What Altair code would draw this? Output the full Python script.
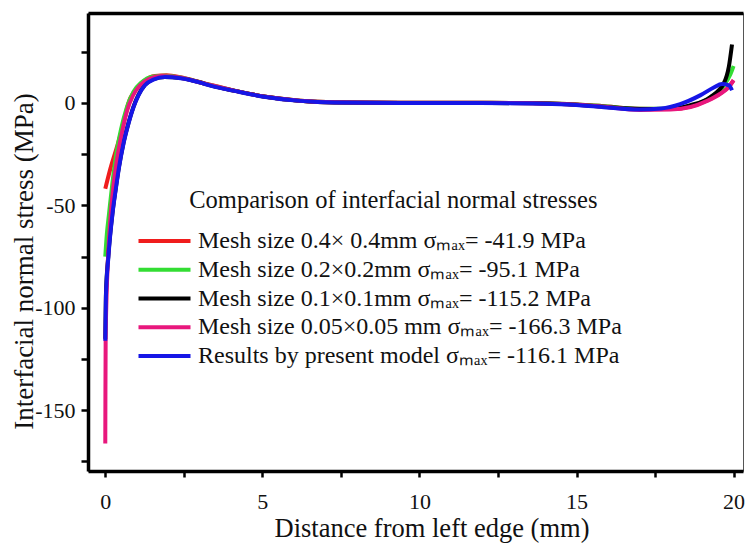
import altair as alt
import pandas as pd

series_names = [
    "Mesh size 0.4\u00d7 0.4mm \u03c3\u2098\u2090\u2093= -41.9 MPa",
    "Mesh size 0.2\u00d70.2mm \u03c3\u2098\u2090\u2093= -95.1 MPa",
    "\u00a0Mesh size 0.1\u00d70.1mm \u03c3\u2098\u2090\u2093= -115.2 MPa",
    "Mesh size 0.05\u00d70.05 mm \u03c3\u2098\u2090\u2093= -166.3 MPa",
    "Results by present model \u03c3\u2098\u2090\u2093= -116.1 MPa",
]
series_colors = ["#f01c1c", "#33dd33", "#000000", "#e8177d", "#1616e6"]

red_x = [0, 0.15, 0.37, 0.58, 0.73, 0.95, 1.21, 1.58, 1.95, 2.43, 3.0, 3.4, 4.1, 5.1, 6.2, 7.3, 9.4, 11.5, 13.6, 14.7, 15.8, 17.0, 18.0, 18.63, 19.16, 19.59, 19.85, 20.0]
red_y = [-41.9, -32.8, -21.5, -10, -0.3, 6.2, 10.4, 13.2, 13.5, 12.4, 10.2, 8.6, 6.0, 3.0, 1.1, 0.3, 0.1, 0.1, -0.1, -0.5, -1.5, -2.9, -3.0, -1.8, 1.2, 4.8, 7.9, 11.0]

green_x = [0, 0.05, 0.12, 0.22, 0.35, 0.5, 0.68, 0.9, 1.15, 1.5, 1.9, 2.43, 3.0, 3.4, 4.1, 5.1, 6.2, 7.3, 9.4, 11.5, 13.6, 14.7, 15.8, 17.0, 18.0, 18.63, 19.26, 19.69, 19.9, 20.0]
green_y = [-75, -64, -54, -40, -25, -13, -2.5, 5.5, 10, 12.8, 13.3, 12.3, 10.1, 8.5, 6.0, 3.0, 1.1, 0.3, 0.1, 0.1, -0.1, -0.5, -1.5, -2.9, -2.8, -1.4, 2.6, 8.5, 14.0, 18.0]

black_x = [0, 0.02, 0.1, 0.23, 0.33, 0.44, 0.58, 0.74, 0.9, 1.06, 1.26, 1.53, 1.9, 2.4, 3.0, 3.4, 4.1, 5.1, 6.2, 7.3, 9.4, 11.5, 13.6, 14.7, 15.8, 17.0, 18.0, 18.63, 19.26, 19.69, 19.85, 19.95]
black_y = [-115.2, -94, -74, -53.5, -42, -30.8, -19.5, -9.7, -1.8, 4.0, 8.8, 11.6, 12.7, 12.1, 10.1, 8.3, 6.0, 3.0, 1.0, 0.2, 0, 0, -0.2, -0.7, -1.8, -3.0, -2.8, -1.1, 2.9, 9.6, 17.7, 28.5]

pink_x = [0, 0.005, 0.012, 0.04, 0.09, 0.17, 0.28, 0.4, 0.55, 0.7, 0.88, 1.1, 1.4, 1.8, 2.4, 3.0, 3.4, 4.1, 5.1, 6.2, 7.3, 9.4, 11.5, 13.6, 14.7, 15.8, 17.0, 17.99, 18.63, 19.16, 19.59, 19.85, 20.0]
pink_y = [-166.3, -140, -116, -95, -75, -55, -38, -25, -13, -3.5, 3.5, 8.5, 11.8, 13.2, 12.3, 10.1, 8.5, 6.0, 3.0, 1.1, 0.3, 0.1, 0.1, -0.2, -0.6, -1.7, -3.4, -3.2, -2.0, 1.0, 4.6, 7.8, 11.1]

blue_x = [0, 0.02, 0.1, 0.23, 0.33, 0.44, 0.58, 0.74, 0.9, 1.06, 1.26, 1.53, 1.9, 2.4, 3.0, 3.4, 4.1, 5.1, 6.2, 7.3, 9.4, 11.5, 13.6, 14.7, 15.8, 17.0, 17.7, 18.3, 18.95, 19.37, 19.63, 19.85, 19.95]
blue_y = [-116.1, -95, -75, -54, -42.6, -31.2, -19.8, -10, -2, 3.8, 8.6, 11.4, 12.6, 12.0, 10.0, 8.2, 5.9, 2.9, 1.0, 0.2, 0, 0, -0.3, -0.8, -2.0, -3.2, -2.7, -0.6, 3.8, 7.5, 9.2, 8.6, 6.2]

x_ticks = [0, 2.5, 5, 7.5, 10, 12.5, 15, 17.5, 20]
y_ticks = [-175, -150, -125, -100, -75, -50, -25, 0, 25]

rows = []
all_x = [red_x, green_x, black_x, pink_x, blue_x]
all_y = [red_y, green_y, black_y, pink_y, blue_y]
for name, xs, ys in zip(series_names, all_x, all_y):
    for i, (xv, yv) in enumerate(zip(xs, ys)):
        rows.append({"series": name, "x": xv, "y": yv, "i": i})
df = pd.DataFrame(rows)

FONT = "Liberation Serif"
xscale = alt.Scale(domain=[-0.55, 20.3], nice=False, zero=False)
yscale = alt.Scale(domain=[-179.7, 43.9], nice=False, zero=False)

y_axis = alt.Axis(
    values=y_ticks,
    labelExpr="datum.value % 50 == 0 ? '' + datum.value : ''",
    title="Interfacial normal stress (MPa)",
    titleFont=FONT, titleFontSize=27, titleFontWeight="normal", titleColor="#111",
    titleX=-55.5, titleY=248, titleBaseline="alphabetic", titleAlign="center", titleAngle=270,
    labelFont=FONT, labelFontSize=22, labelColor="#111", labelPadding=6,
    tickSize=7, tickWidth=2.5, tickColor="black",
    domainWidth=3.5, domainColor="black", grid=False, labelFlush=False,
)

lines = alt.Chart(df).mark_line(strokeWidth=4, interpolate="monotone").encode(
    x=alt.X("x:Q", scale=xscale, axis=alt.Axis(
        values=x_ticks,
        labelExpr="datum.value % 5 == 0 ? '' + datum.value : ''",
        title="Distance from left edge (mm)",
        titleFont=FONT, titleFontSize=26.5, titleFontWeight="normal", titleColor="#111",
        titleX=343.5, titleY=65.7, titleBaseline="alphabetic", titleAlign="center",
        labelFont=FONT, labelFontSize=22, labelColor="#111", labelPadding=14,
        tickSize=6, tickWidth=2.5, tickColor="black",
        domainWidth=3.5, domainColor="black", grid=False, labelFlush=False,
    )),
    y=alt.Y("y:Q", scale=yscale, axis=y_axis),
    color=alt.Color("series:N", scale=alt.Scale(domain=series_names, range=series_colors),
        legend=alt.Legend(
            orient="none", legendX=64.5, legendY=176.3, padding=0,
            title="\u200b" + "\u00a0" * 6 + "Comparison of interfacial normal stresses",
            titleFont=FONT, titleFontSize=24.5, titleFontWeight="normal", titleColor="#111",
            titlePadding=15.2, titleLimit=1000,
            labelFont=FONT, labelFontSize=24, labelColor="#111", labelLimit=1000,
            labelOffset=21.5, symbolType="M-5.2,0H5.2", symbolSize=100,
            symbolStrokeWidth=4, rowPadding=4.75, symbolOffset=0,
        )),
    order="i:Q",
)

frame_top = alt.Chart(df).mark_line(opacity=0).encode(
    x=alt.X("x:Q", scale=xscale, axis=alt.Axis(orient="top", labels=False, ticks=False,
                                              title=None, domainWidth=3.5, domainColor="black", grid=False)),
    y=alt.Y("y:Q", scale=yscale, axis=y_axis),
)

chart = alt.layer(frame_top, lines).resolve_axis(x="independent").properties(
    width=655, height=458,
    padding={"left": 88, "top": 13, "right": 5, "bottom": 75},
    autosize=alt.AutoSizeParams(type="none"),
    background="white",
).configure_view(stroke="#555", strokeWidth=1)

chart.save("out.html", embed_options={"renderer": "svg", "actions": False})
